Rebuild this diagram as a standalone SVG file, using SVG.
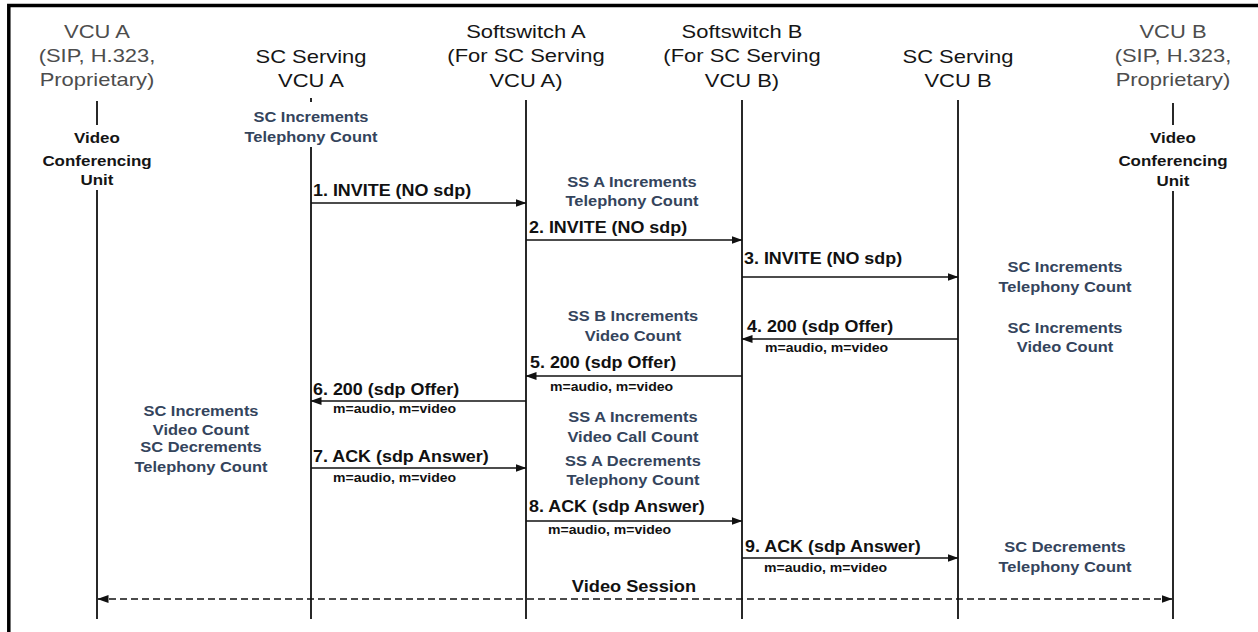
<svg xmlns="http://www.w3.org/2000/svg" width="1258" height="632" viewBox="0 0 1258 632">
<style>
  text { font-family: "Liberation Sans", Arial, sans-serif; transform-box: fill-box; }
  .hdr { font-size: 18px; fill: #151515; text-anchor: middle; transform-origin: center; transform: scaleX(1.22); }
  .hdr.grey { fill: #4d4d4d; }
  .unit { font-size: 15px; font-weight: bold; fill: #151515; text-anchor: middle; transform-origin: center; transform: scaleX(1.13); }
  .note { font-size: 15.5px; font-weight: bold; fill: #34445c; text-anchor: middle; transform-origin: center; transform: scaleX(1.06); }
  .msg { font-size: 16px; font-weight: bold; fill: #111; text-anchor: start; transform-origin: 0% 50%; transform: scaleX(1.12); }
  .sub { font-size: 12px; font-weight: bold; fill: #111; text-anchor: start; transform-origin: 0% 50%; transform: scaleX(1.17); }
  .session { font-size: 16px; font-weight: bold; fill: #111; text-anchor: middle; transform-origin: center; transform: scaleX(1.14); }
  .life { stroke: #111; stroke-width: 1.8; fill: none; }
  .arrow { stroke: #111; stroke-width: 1.6; fill: none; marker-end: url(#ah); }
  .dash { stroke: #111; stroke-width: 1.6; fill: none; stroke-dasharray: 7 4; marker-start: url(#ahs); marker-end: url(#ah); }
  .frame { stroke: #000; stroke-width: 3.5; fill: none; }
</style>
<defs>
  <marker id="ah" markerUnits="userSpaceOnUse" markerWidth="11" markerHeight="8" refX="10.5" refY="4" orient="auto">
    <path d="M0,0 L11,4 L0,8 z" fill="#111"/>
  </marker>
  <marker id="ahs" markerUnits="userSpaceOnUse" markerWidth="11" markerHeight="8" refX="10.5" refY="4" orient="auto-start-reverse">
    <path d="M0,0 L11,4 L0,8 z" fill="#111"/>
  </marker>
</defs>
<rect x="0" y="0" width="1258" height="632" fill="#fff"/>
<path class="frame" d="M8.8,640 V5.5 H1262"/>

<g id="vcu-a">
  <text class="hdr grey" x="97" y="38">VCU A</text>
  <text class="hdr grey" x="97" y="62">(SIP, H.323,</text>
  <text class="hdr grey" x="97" y="86">Proprietary)</text>
  <line class="life" x1="97" y1="101" x2="97" y2="125"/>
  <text class="unit" x="97" y="143">Video</text>
  <text class="unit" x="97" y="166">Conferencing</text>
  <text class="unit" x="97" y="185">Unit</text>
  <line class="life" x1="97" y1="190" x2="97" y2="619"/>
</g>

<g id="sc-a">
  <text class="hdr" x="311" y="63">SC Serving</text>
  <text class="hdr" x="311" y="87">VCU A</text>
  <line class="life" x1="311" y1="98" x2="311" y2="102"/>
  <line class="life" x1="311" y1="147" x2="311" y2="619"/>
</g>

<g id="ss-a">
  <text class="hdr" x="526" y="38">Softswitch A</text>
  <text class="hdr" x="526" y="62">(For SC Serving</text>
  <text class="hdr" x="526" y="87">VCU A)</text>
  <line class="life" x1="526" y1="100" x2="526" y2="619"/>
</g>

<g id="ss-b">
  <text class="hdr" x="742" y="38">Softswitch B</text>
  <text class="hdr" x="742" y="62">(For SC Serving</text>
  <text class="hdr" x="742" y="87">VCU B)</text>
  <line class="life" x1="742" y1="100" x2="742" y2="619"/>
</g>

<g id="sc-b">
  <text class="hdr" x="958" y="63">SC Serving</text>
  <text class="hdr" x="958" y="87">VCU B</text>
  <line class="life" x1="958" y1="100" x2="958" y2="619"/>
</g>

<g id="vcu-b">
  <text class="hdr grey" x="1173" y="38">VCU B</text>
  <text class="hdr grey" x="1173" y="62">(SIP, H.323,</text>
  <text class="hdr grey" x="1173" y="86">Proprietary)</text>
  <line class="life" x1="1173" y1="103" x2="1173" y2="125"/>
  <text class="unit" x="1173" y="143">Video</text>
  <text class="unit" x="1173" y="166">Conferencing</text>
  <text class="unit" x="1173" y="186">Unit</text>
  <line class="life" x1="1173" y1="191" x2="1173" y2="619"/>
</g>

<g id="notes">
  <text class="note" x="311" y="122">SC Increments</text>
  <text class="note" x="311" y="142">Telephony Count</text>
  <text class="note" x="632" y="187">SS A Increments</text>
  <text class="note" x="632" y="206">Telephony Count</text>
  <text class="note" x="1065" y="272">SC Increments</text>
  <text class="note" x="1065" y="292">Telephony Count</text>
  <text class="note" x="633" y="321">SS B Increments</text>
  <text class="note" x="633" y="341">Video Count</text>
  <text class="note" x="1065" y="333">SC Increments</text>
  <text class="note" x="1065" y="352">Video Count</text>
  <text class="note" x="633" y="422">SS A Increments</text>
  <text class="note" x="633" y="442">Video Call Count</text>
  <text class="note" x="633" y="466">SS A Decrements</text>
  <text class="note" x="633" y="485">Telephony Count</text>
  <text class="note" x="201" y="416">SC Increments</text>
  <text class="note" x="201" y="435">Video Count</text>
  <text class="note" x="201" y="452">SC Decrements</text>
  <text class="note" x="201" y="472">Telephony Count</text>
  <text class="note" x="1065" y="552">SC Decrements</text>
  <text class="note" x="1065" y="572">Telephony Count</text>
</g>

<g id="connectors">
  <path class="arrow" d="M311,203 H526"/>
  <path class="arrow" d="M526,240 H742"/>
  <path class="arrow" d="M742,277 H958"/>
  <path class="arrow" d="M958,339 H742"/>
  <path class="arrow" d="M742,376 H526"/>
  <path class="arrow" d="M526,401 H311"/>
  <path class="arrow" d="M311,468 H526"/>
  <path class="arrow" d="M526,521 H742"/>
  <path class="arrow" d="M742,558 H958"/>
  <path class="dash" d="M98,599 H1172"/>

  <text class="msg" x="313" y="196">1. INVITE (NO sdp)</text>
  <text class="msg" x="529" y="233">2. INVITE (NO sdp)</text>
  <text class="msg" x="744" y="264">3. INVITE (NO sdp)</text>
  <text class="msg" x="747" y="332">4. 200 (sdp Offer)</text>
  <text class="sub" x="765" y="352">m=audio, m=video</text>
  <text class="msg" x="530" y="368">5. 200 (sdp Offer)</text>
  <text class="sub" x="550" y="391">m=audio, m=video</text>
  <text class="msg" x="313" y="395">6. 200 (sdp Offer)</text>
  <text class="sub" x="333" y="413">m=audio, m=video</text>
  <text class="msg" x="313" y="462">7. ACK (sdp Answer)</text>
  <text class="sub" x="333" y="482">m=audio, m=video</text>
  <text class="msg" x="529" y="512">8. ACK (sdp Answer)</text>
  <text class="sub" x="548" y="534">m=audio, m=video</text>
  <text class="msg" x="745" y="552">9. ACK (sdp Answer)</text>
  <text class="sub" x="764" y="572">m=audio, m=video</text>
  <text class="session" x="634" y="592">Video Session</text>
</g>
</svg>
